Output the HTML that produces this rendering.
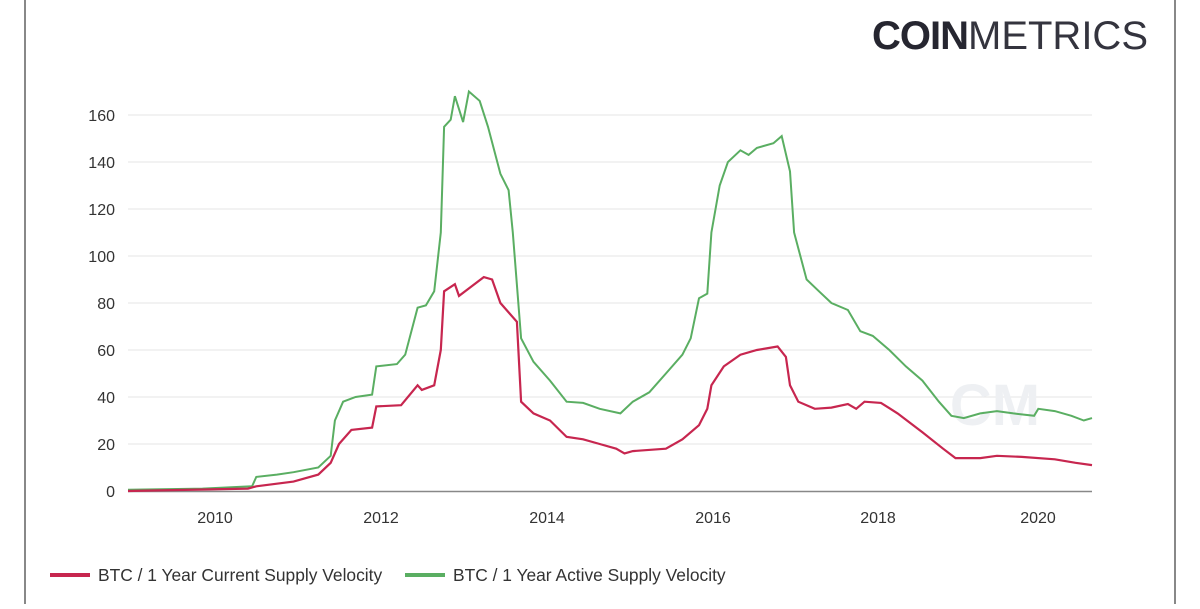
<!DOCTYPE html>
<html><head><meta charset="utf-8"><style>
body{margin:0;background:#fff;width:1200px;height:604px;overflow:hidden;font-family:"Liberation Sans",sans-serif}
</style></head><body>
<svg id="s" width="1200" height="604" xmlns="http://www.w3.org/2000/svg" font-family="Liberation Sans, sans-serif">
<rect x="0" y="0" width="1200" height="604" fill="#fff"/>
<line x1="25" y1="0" x2="25" y2="604" stroke="#888" stroke-width="2"/>
<line x1="1175" y1="0" x2="1175" y2="604" stroke="#888" stroke-width="2"/>
<text x="872" y="49" font-size="40" font-weight="bold" fill="#262630" letter-spacing="-1">COIN<tspan font-weight="normal" letter-spacing="0" fill="#34343e">METRICS</tspan></text>
<g id="grid" stroke="#e4e4e4" stroke-width="1"></g>
<g id="yl" font-size="16" fill="#333" text-anchor="end"></g>
<line x1="128" y1="491.5" x2="1092" y2="491.5" stroke="#888" stroke-width="1.5"/>
<g font-size="16" fill="#333" text-anchor="middle">
<text x="215" y="523">2010</text><text x="381" y="523">2012</text><text x="547" y="523">2014</text>
<text x="713" y="523">2016</text><text x="878" y="523">2018</text><text x="1038" y="523">2020</text>
</g>
<text x="995" y="425" font-size="58" fill="#eef0f3" text-anchor="middle" font-weight="bold">CM</text>
<polyline id="g" fill="none" stroke="#5aae62" stroke-width="2"/>
<polyline id="r" fill="none" stroke="#c7264f" stroke-width="2.2"/>
<line x1="50" y1="575" x2="90" y2="575" stroke="#c7264f" stroke-width="4"/>
<text x="98" y="581" font-size="17.4" fill="#333">BTC / 1 Year Current Supply Velocity</text>
<line x1="405" y1="575" x2="445" y2="575" stroke="#5aae62" stroke-width="4"/>
<text x="453" y="581" font-size="17.4" fill="#333">BTC / 1 Year Active Supply Velocity</text>
</svg>
<script>
var X=function(y){return 128+(y-2009)*82.75},Y=function(v){return 491-v*2.35};
var gr=document.getElementById('grid'),yl=document.getElementById('yl'),ns="http://www.w3.org/2000/svg";
for(var v=0;v<=160;v+=20){var t=document.createElementNS(ns,'text');t.setAttribute('x',115);t.setAttribute('y',Y(v)+6);t.textContent=v;yl.appendChild(t);
if(v>0){var l=document.createElementNS(ns,'line');l.setAttribute('x1',128);l.setAttribute('x2',1092);l.setAttribute('y1',Y(v));l.setAttribute('y2',Y(v));gr.appendChild(l);}}
var G=[2009.0,0.5,2009.9,1,2010.5,2,2010.55,6,2010.8,7,2011.0,8,2011.3,10,2011.45,15,2011.5,30,2011.6,38,2011.75,40,2011.95,41,2012.0,53,2012.25,54,2012.35,58,2012.5,78,2012.6,79,2012.7,85,2012.78,110,2012.82,155,2012.9,158,2012.95,168,2013.05,157,2013.12,170,2013.25,166,2013.35,155,2013.5,135,2013.6,128,2013.65,110,2013.75,65,2013.9,55,2014.1,47,2014.3,38,2014.5,37.5,2014.7,35,2014.95,33,2015.1,38,2015.3,42,2015.5,50,2015.7,58,2015.8,65,2015.9,82,2016.0,84,2016.05,110,2016.15,130,2016.25,140,2016.4,145,2016.5,143,2016.6,146,2016.8,148,2016.9,151,2017.0,136,2017.05,110,2017.2,90,2017.35,85,2017.5,80,2017.7,77,2017.85,68,2018.0,66,2018.2,60,2018.4,53,2018.6,47,2018.8,38,2018.95,32,2019.1,31,2019.3,33,2019.5,34,2019.7,33,2019.95,32,2020.0,35,2020.2,34,2020.4,32,2020.55,30,2020.65,31];
var R=[2009.0,0,2010.45,1,2010.55,2,2011.0,4,2011.3,7,2011.45,12,2011.55,20,2011.7,26,2011.95,27,2012.0,36,2012.3,36.5,2012.5,45,2012.55,43,2012.7,45,2012.78,60,2012.82,85,2012.95,88,2013.0,83,2013.15,87,2013.3,91,2013.4,90,2013.5,80,2013.7,72,2013.75,38,2013.9,33,2014.1,30,2014.3,23,2014.5,22,2014.7,20,2014.9,18,2015.0,16,2015.1,17,2015.5,18,2015.7,22,2015.9,28,2016.0,35,2016.05,45,2016.2,53,2016.4,58,2016.6,60,2016.85,61.5,2016.95,57,2017.0,45,2017.1,38,2017.3,35,2017.5,35.5,2017.7,37,2017.8,35,2017.9,38,2018.1,37.5,2018.3,33,2018.6,25,2018.85,18,2019.0,14,2019.3,14,2019.5,15,2019.8,14.5,2020.2,13.5,2020.45,12,2020.65,11];
function P(a){var s=[];for(var i=0;i<a.length;i+=2)s.push(X(a[i]).toFixed(1)+','+Y(a[i+1]).toFixed(1));return s.join(' ')}
document.getElementById('g').setAttribute('points',P(G));
document.getElementById('r').setAttribute('points',P(R));
</script>
</body></html>
